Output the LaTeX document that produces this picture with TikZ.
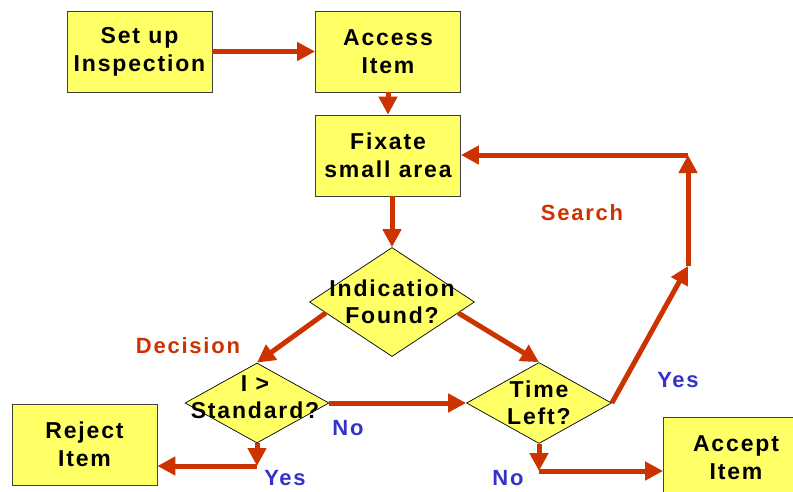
\documentclass[tikz,border=0pt]{standalone}
\usepackage{fontspec}
\setmainfont[LetterSpace=8]{Liberation Sans}
\usetikzlibrary{shapes.geometric,arrows.meta,calc}

\definecolor{flowred}{HTML}{CC3300}
\definecolor{flowblue}{HTML}{3333CC}
\definecolor{boxfill}{HTML}{FFFF66}

\tikzset{
  box/.style={draw=black!75, fill=boxfill, line width=0.8pt, minimum width=145pt,
    minimum height=81pt, inner sep=0pt, align=center,
    font=\bfseries\fontsize{23}{28}\selectfont},
  dia/.style={diamond, draw=black, fill=boxfill, line width=0.7pt, inner sep=0pt},
  dtext/.style={align=center, inner sep=0pt, font=\bfseries\fontsize{23}{27}\selectfont},
  flow/.style={draw=flowred, line width=5pt, -{Triangle[length=18pt,width=18pt]}},
  redtag/.style={text=flowred, inner sep=0pt, font=\bfseries\fontsize{22}{25}\selectfont},
  bluetag/.style={text=flowblue, inner sep=0pt, font=\bfseries\fontsize{22}{25}\selectfont}
}

\begin{document}
\begin{tikzpicture}[x=1pt,y=-1pt]
  \useasboundingbox (0,0) rectangle (793,491);
  \clip (0,0) rectangle (793,491);

  % process boxes
  \node[box] (setup)  at (139.5,51.5)  {Set up\\Inspection};
  \node[box] (access) at (388,51.5)    {Access\\Item};
  \node[box] (fix)    at (388,155.5)   {Fixate\\small area};
  \node[box] (reject) at (84.5,444.5)  {Reject\\Item};
  \node[box] (accept) at (736,458)     {Accept\\Item};

  % decision diamonds
  \node[dia, minimum width=165pt, minimum height=109pt] (ind)  at (392,302) {};
  \node[dia, minimum width=144pt, minimum height=80pt]  (std)  at (257,403) {};
  \node[dia, minimum width=145pt, minimum height=81pt]  (time) at (539,403) {};
  \node[dtext] (indT)  at (392,302) {Indication\\Found?};
  \node[dtext] (stdT)  at (255,397) {I >\\Standard?};
  \node[dtext] (timeT) at (539,403) {Time\\Left?};

  % bend points of the connectors
  \coordinate (stdBend)  at (257,466);
  \coordinate (timeBend) at (539,471);
  \coordinate (loopLow)  at (688,266);
  \coordinate (loopHigh) at (688,155);

  % connectors
  \draw[flow] (setup.east) -- (access.west);
  \draw[flow] (access.south) -- (fix.north);
  \draw[flow] (ind.north |- fix.south) -- (ind.north);
  \draw[flow] ($(ind.west)!0.2!(ind.south)$) -- (std.north);
  \draw[flow] ($(ind.east)!0.2!(ind.south)$) -- (time.north);
  \draw[flow] (std.east) -- (time.west);
  \draw[flow] (std.south) -- (stdBend);
  \draw[flow] (stdBend) -- (stdBend -| reject.east);
  \draw[flow] (time.south) -- (timeBend);
  \draw[flow] (timeBend) -- (timeBend -| accept.west);
  \draw[flow] (time.east) -- (loopLow);
  \draw[flow] (loopLow) -- (loopHigh);
  \draw[flow] (loopHigh) -- (loopHigh -| fix.east);

  % labels
  \node[redtag]  (lblSearch)   at (582,213) {Search};
  \node[redtag]  (lblDecision) at (188,346) {Decision};
  \node[bluetag] (lblNo1)      at (348,428) {No};
  \node[bluetag] (lblYes1)     at (285,478) {Yes};
  \node[bluetag] (lblNo2)      at (508,478) {No};
  \node[bluetag] (lblYes2)     at (678,380) {Yes};
\end{tikzpicture}
\end{document}
